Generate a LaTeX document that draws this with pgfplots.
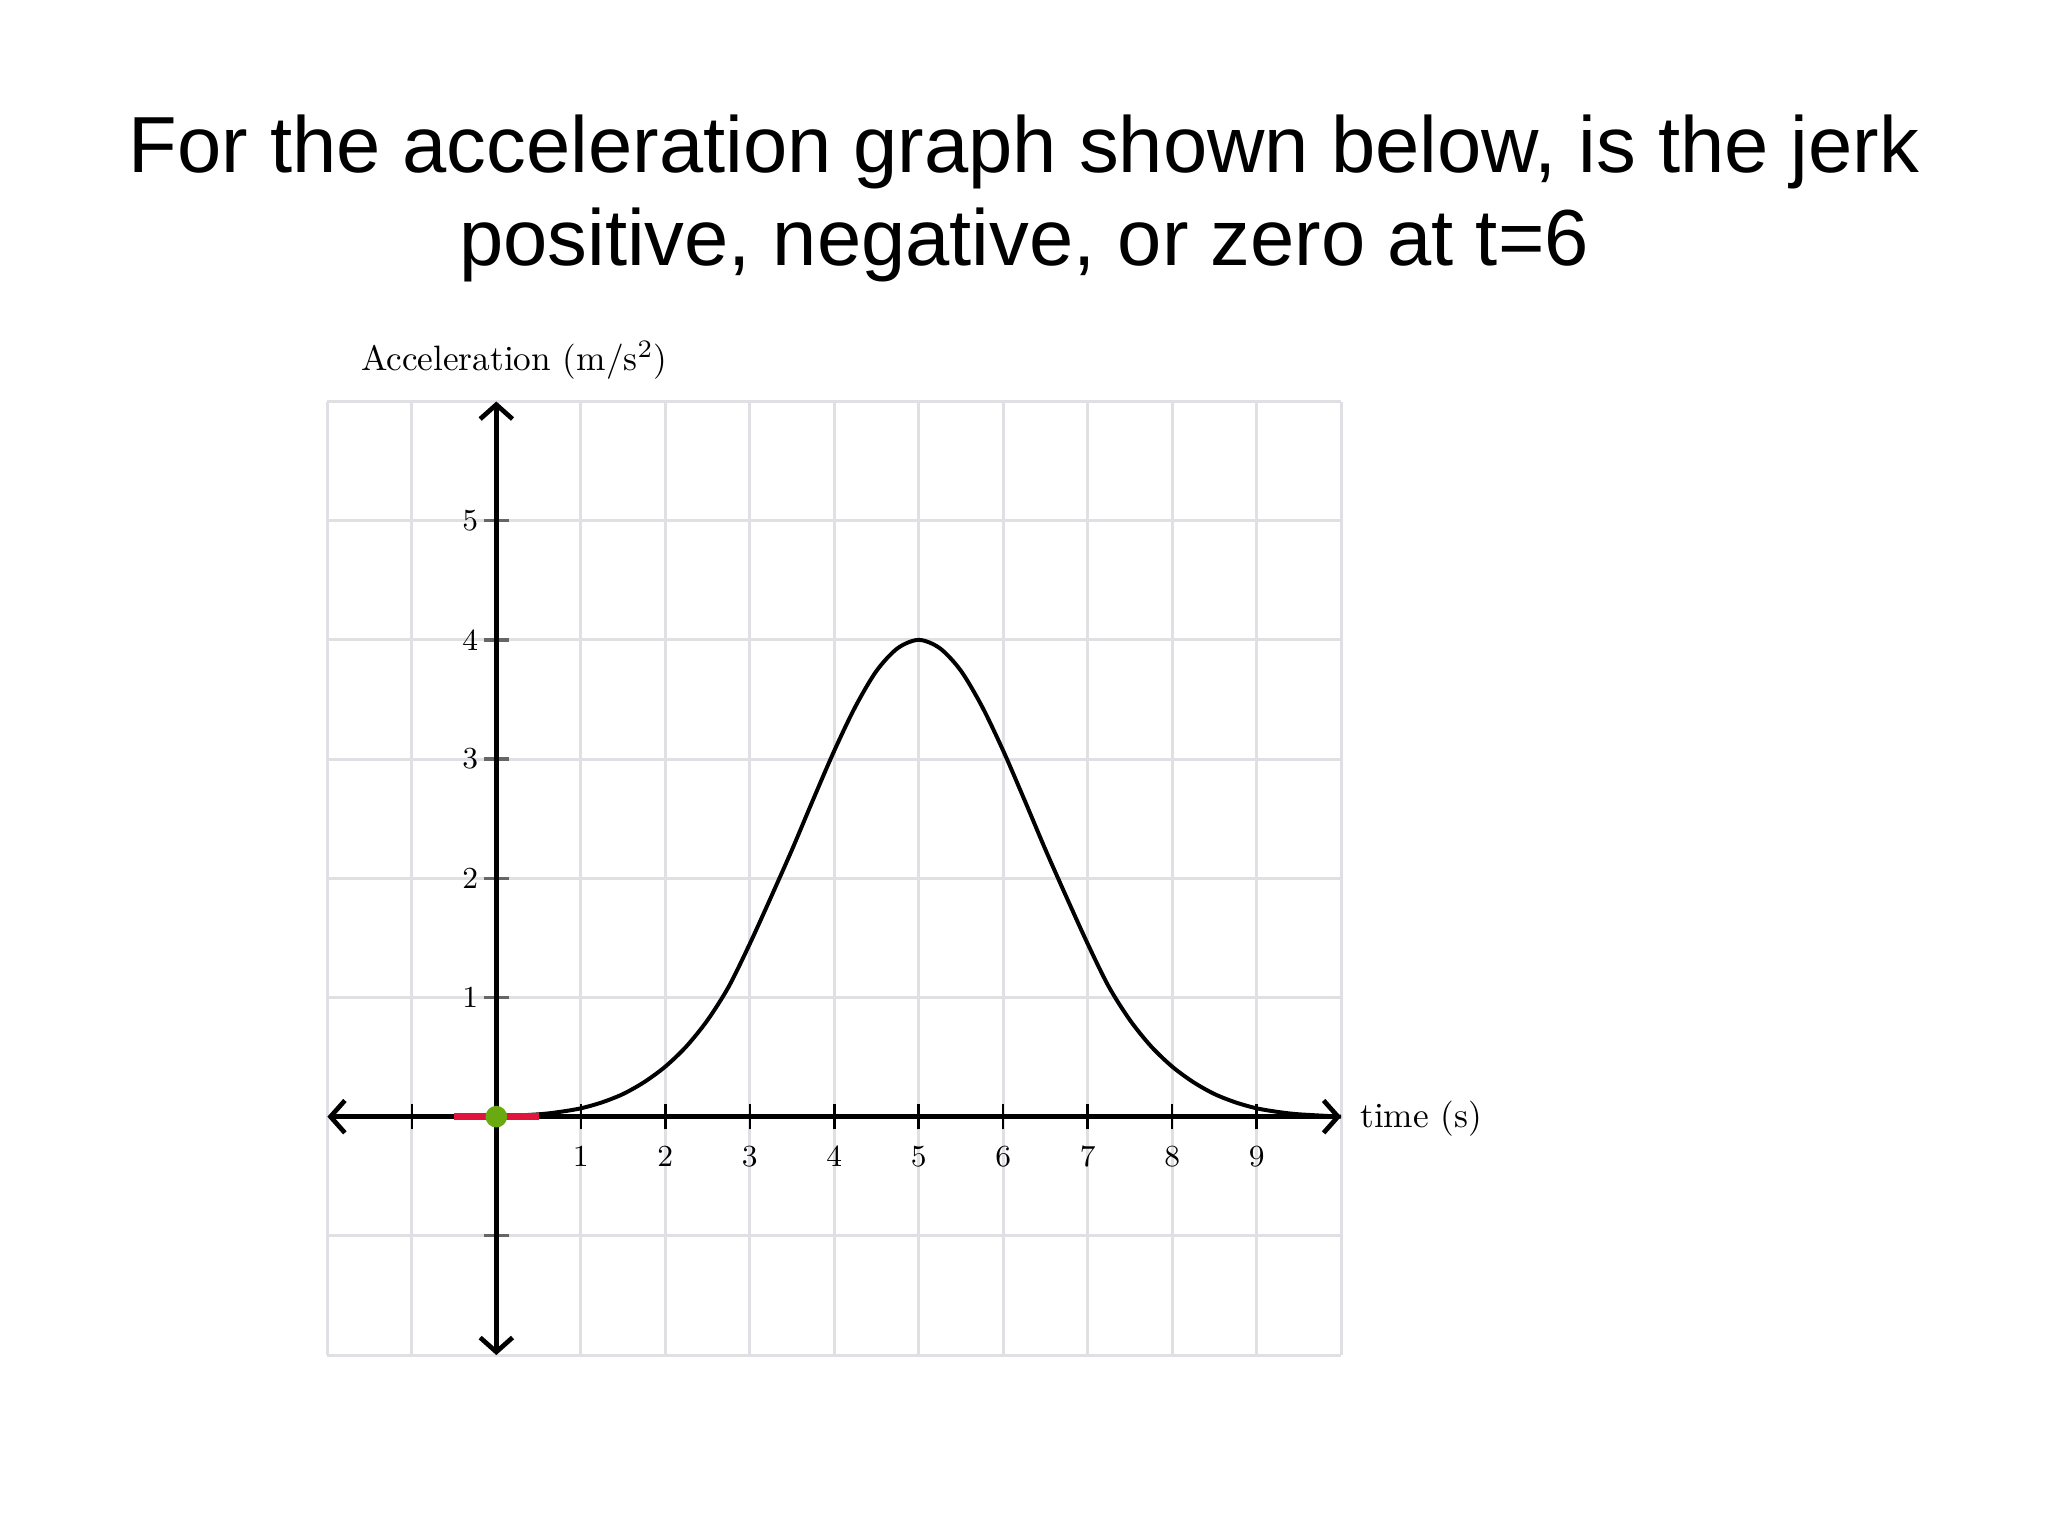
\documentclass[border=0pt]{standalone}
\usepackage{fontspec}
\usepackage{pgfplots}
\pgfplotsset{compat=1.18}
\usetikzlibrary{arrows.meta}
\newfontfamily\titlefont{Liberation Sans}
\definecolor{gridgray}{RGB}{224,223,228}
\definecolor{dotgreen}{RGB}{106,170,16}
\definecolor{segred}{RGB}{226,20,60}

\begin{document}
\begin{tikzpicture}
\path (0,0) rectangle (20cm,15cm);
% title, two centred lines
\node[anchor=base, font=\titlefont\fontsize{22.1}{26}\selectfont] at (10cm,13.32cm)
  {For the acceleration graph shown below, is the jerk};
\node[anchor=base, font=\titlefont\fontsize{22.1}{26}\selectfont] at (10cm,12.41cm)
  {positive, negative, or zero at t=6};
\begin{axis}[
  set layers,
  at={(4.847cm,4.095cm)}, anchor=origin,
  x=0.825cm, y=1.164cm,
  xmin=-2, xmax=10, ymin=-2, ymax=6,
  axis lines=middle,
  every inner x axis line/.append style={line width=1.3pt,
    {Straight Barb[length=4pt,width=9pt]}-{Straight Barb[length=4pt,width=9pt]}},
  every inner y axis line/.append style={line width=1.3pt,
    {Straight Barb[length=4pt,width=9pt]}-{Straight Barb[length=4pt,width=9pt]}},
  xtick={-1,1,2,3,4,5,6,7,8,9},
  xticklabels={,1,2,3,4,5,6,7,8,9},
  ytick={-1,1,2,3,4,5},
  yticklabels={,1,2,3,4,5},
  tick align=center,
  major tick length=7pt,
  x tick style={black, line width=0.7pt},
  y tick style={black!60, line width=0.9pt},
  extra x ticks={-2,-1,...,10},
  extra y ticks={-2,-1,...,6},
  extra x tick labels={},
  extra y tick labels={},
  extra tick style={major tick length=0pt, grid=major,
    major grid style={gridgray, line width=0.8pt}},
  tick label style={font=\fontsize{8.5}{10}\selectfont},
  x tick label style={yshift=-1.1pt},
  y tick label style={xshift=2pt},
  clip=false,
]
\addplot[black, line width=1.1pt, smooth] coordinates {
  (0,0) (0.5,0.02) (0.75,0.04) (1,0.07) (1.25,0.12) (1.5,0.19) (1.75,0.29)
  (2,0.42) (2.25,0.59) (2.5,0.81) (2.75,1.09) (3,1.45)
  (3.25,1.84) (3.5,2.24) (3.75,2.66) (4,3.07) (4.25,3.44) (4.5,3.74)
  (4.75,3.93) (5,4.0) (5.25,3.93) (5.5,3.74) (5.75,3.44) (6,3.07)
  (6.25,2.66) (6.5,2.24) (6.75,1.84) (7,1.45) (7.25,1.09) (7.5,0.81)
  (7.75,0.59) (8,0.42) (8.25,0.29) (8.5,0.19) (8.75,0.12) (9,0.07)
  (9.25,0.04) (9.5,0.02) (10,0)
};
\addplot[segred, line width=2pt] coordinates {(-0.5,0) (0.5,0)};
\addplot[only marks, mark=*, mark size=2.8pt, color=dotgreen,
  mark options={draw=dotgreen, fill=dotgreen}] coordinates {(0,0)};
\node[anchor=base west, inner sep=0pt, font=\fontsize{9.8}{12}\selectfont]
  at (axis cs:-1.61,6.26) {Acceleration (m/s$^2$)};
\node[anchor=base west, inner sep=0pt, font=\fontsize{9.8}{12}\selectfont]
  at (axis cs:10.22,-0.09) {time (s)};
\end{axis}
\end{tikzpicture}
\end{document}
